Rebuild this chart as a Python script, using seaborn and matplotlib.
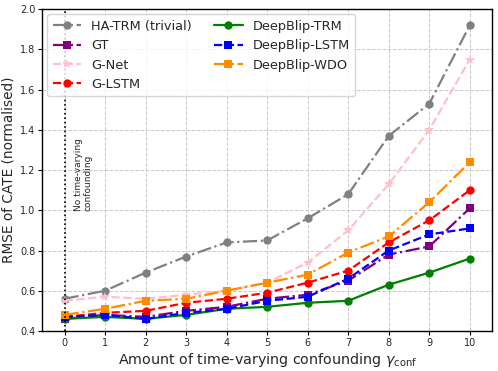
import numpy as np
import pandas as pd
import matplotlib
matplotlib.use("Agg")
import matplotlib.pyplot as plt
import seaborn as sns

gamma = [0, 1, 2, 3, 4, 5, 6, 7, 8, 9, 10]
ha_trm = [0.56, 0.60, 0.69, 0.77, 0.84, 0.85, 0.96, 1.08, 1.37, 1.53, 1.92]
gt = [0.46, 0.48, 0.47, 0.50, 0.52, 0.56, 0.58, 0.65, 0.78, 0.82, 1.01]
g_net = [0.55, 0.57, 0.56, 0.58, 0.60, 0.64, 0.74, 0.90, 1.13, 1.40, 1.75]
g_lstm = [0.47, 0.49, 0.50, 0.54, 0.56, 0.59, 0.64, 0.70, 0.84, 0.95, 1.10]
db_trm = [0.46, 0.47, 0.46, 0.48, 0.51, 0.52, 0.54, 0.55, 0.63, 0.69, 0.76]
db_lstm = [0.47, 0.48, 0.46, 0.49, 0.51, 0.55, 0.57, 0.66, 0.80, 0.88, 0.91]
db_wdo = [0.48, 0.51, 0.55, 0.56, 0.60, 0.64, 0.68, 0.79, 0.87, 1.04, 1.24]

series = [
    ("HA-TRM (trivial)", ha_trm, "gray", "-.", "o"),
    ("GT", gt, "purple", "-.", "s"),
    ("G-Net", g_net, "pink", "--", "*"),
    ("G-LSTM", g_lstm, "red", "--", "o"),
    ("DeepBlip-TRM", db_trm, "green", "-", "o"),
    ("DeepBlip-LSTM", db_lstm, "blue", "--", "s"),
    ("DeepBlip-WDO", db_wdo, "darkorange", "-.", "s"),
]

sns.set_style("whitegrid")
plt.rcParams["font.family"] = ["DejaVu Sans"]

fig, ax = plt.subplots(figsize=(4.98, 3.71), dpi=100)
for name, vals, color, ls, mk in series:
    df = pd.DataFrame({"x": gamma, "y": vals})
    sns.lineplot(data=df, x="x", y="y", ax=ax, color=color, linestyle=ls,
                 marker=mk, markersize=6 if mk != "*" else 7.5, linewidth=1.6,
                 markeredgewidth=0, label=name)

ax.axvline(0, color="black", linestyle=":", linewidth=1.2)
ax.text(0.22, 1.18, "No time-varying\nconfounding", rotation=90, fontsize=6.5,
        ha="left", va="center", linespacing=1.1)

ax.set_xlim(-0.55, 10.55)
ax.set_ylim(0.4, 2.0)
ax.set_xticks(gamma)
ax.set_yticks(np.arange(0.4, 2.01, 0.2))
ax.set_yticklabels([f"{v:.1f}" for v in np.arange(0.4, 2.01, 0.2)])
ax.tick_params(axis="both", labelsize=7, length=3, color="black", pad=2)
ax.tick_params(axis="both", which="both", bottom=True, left=True)
ax.set_xlabel(r"Amount of time-varying confounding $\gamma_{\mathrm{conf}}$", fontsize=10.3, labelpad=2)
ax.set_ylabel("RMSE of CATE (normalised)", fontsize=9.8, labelpad=3)
ax.grid(True, linestyle="--", color="#c8c8c8", linewidth=0.7)
for s in ax.spines.values():
    s.set_color("black")
    s.set_linewidth(1.0)

ax.legend(loc="upper left", ncol=2, fontsize=9.3, frameon=True,
          handlelength=2.2, columnspacing=1.7, labelspacing=0.5,
          borderaxespad=0.4)

fig.subplots_adjust(left=0.085, right=0.988, top=0.975, bottom=0.108)
fig.savefig("out.png", dpi=100)
